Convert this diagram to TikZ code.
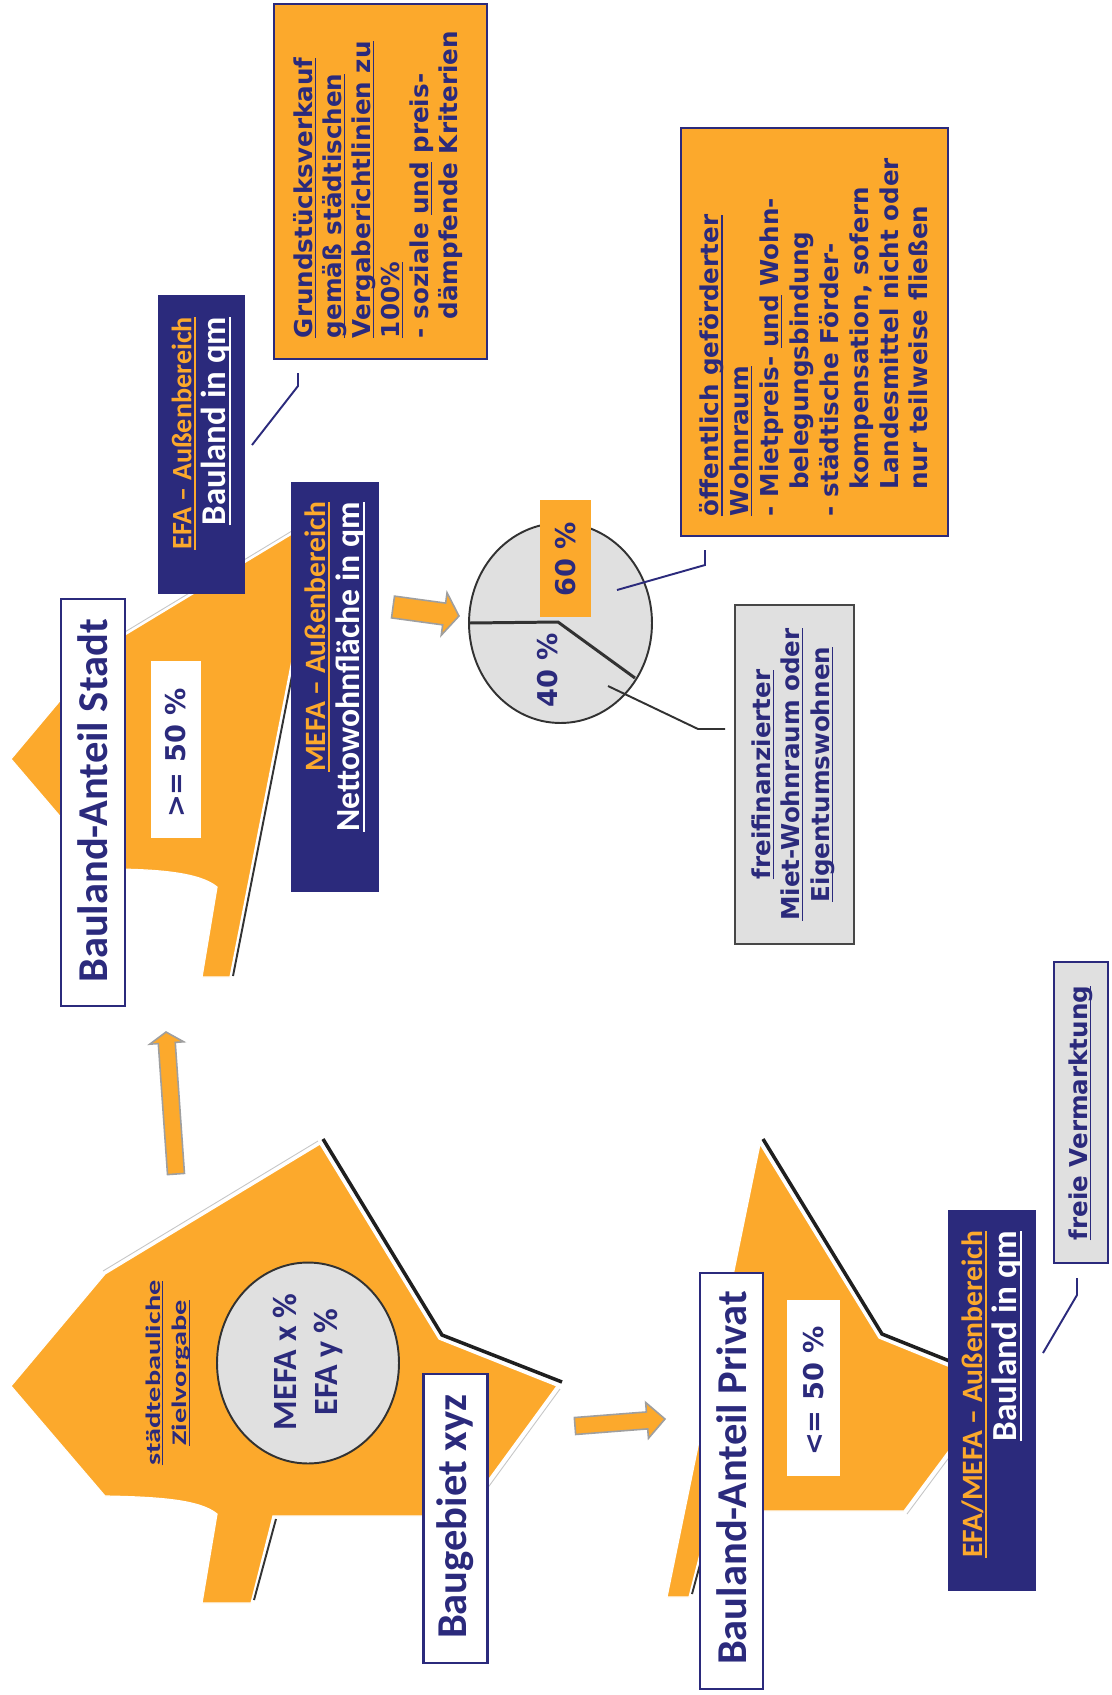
\documentclass[tikz,border=0pt]{standalone}
\usepackage{fontspec}
\usepackage{graphicx}
\usetikzlibrary{calc,shapes.geometric}
\newfontfamily\calfont{Carlito}
\newfontfamily\verfont{DejaVu Sans}
\definecolor{navyc}{RGB}{43,42,124}
\definecolor{orangec}{RGB}{252,169,44}
\definecolor{lgray}{RGB}{224,224,224}
\definecolor{dgray}{RGB}{50,50,50}
\newcommand\ul[1]{\leavevmode\setbox0\hbox{#1}\rlap{\rule[-0.15em]{\wd0}{0.055em}}\box0\relax}
\newcommand\blockarrow[6]{%
  \coordinate (#1-h) at ($(#3)!#6!(#2)$);
  \draw[blockar] ($(#2)!#4!90:(#3)$) -- ($(#1-h)!#4!90:(#3)$) -- ($(#1-h)!#5!90:(#3)$) -- (#3) -- ($(#1-h)!#5!-90:(#3)$) -- ($(#1-h)!#4!-90:(#3)$) -- ($(#2)!#4!-90:(#3)$) -- cycle;}
\begin{document}
\begin{tikzpicture}[x=0.02cm,y=-0.02cm,
  boxbase/.style={rectangle,inner sep=0pt,outer sep=0pt},
  navybox/.style={boxbase,fill=navyc},
  whitebox/.style={boxbase,fill=white,draw=navyc,line width=1.4pt},
  orangebox/.style={boxbase,fill=orangec,draw=navyc,line width=1.2pt},
  greybox/.style={boxbase,fill=lgray,draw=navyc,line width=1.2pt},
  ringbox/.style={ellipse,inner sep=0pt,outer sep=0pt,fill=lgray,draw=dgray,line width=1.1pt},
  txt/.style={rotate=90,inner sep=0pt,outer sep=0pt,text=navyc},
  vtxt/.style={txt,font=\verfont\bfseries\fontsize{14}{16.6}\selectfont},
  titletxt/.style={txt,font=\calfont\bfseries\fontsize{24.2}{29}\selectfont},
  pcttxt/.style={txt,font=\verfont\bfseries\fontsize{15.5}{18}\selectfont},
  navytxt/.style={txt,text=white,align=right,font=\calfont\bfseries\fontsize{19.8}{19.6}\selectfont},
  areashape/.style={fill=orangec,draw=white,line width=0.7pt},
  shadowline/.style={black!88,line width=2pt},
  thinshadow/.style={black!80,line width=1.1pt},
  glint/.style={gray!45,line width=0.5pt},
  callout/.style={navyc,line width=1.1pt},
  greycallout/.style={dgray,line width=1.1pt},
  blockar/.style={fill=orangec,draw=gray!75,line width=0.9pt,line join=miter},
  pieline/.style={dgray,line width=1.7pt}]

\useasboundingbox (0,0) rectangle (1112,1695);
\fill[white] (0,0) rectangle (1112,1695);

% ---- Stadt area
\draw[glint] (105,644) -- (320,514);
\draw[thinshadow] (323,518) -- (233,976);
\path[areashape] (11,759) -- (105,647) -- (320,517) -- (230,977) -- (202,977) -- (217,887) .. controls (200,873) and (160,869) .. (105,869) -- cycle;

% ---- Baugebiet area
\draw[glint] (103,1271) -- (318,1141);
\draw[glint] (560,1389) -- (465,1519);
\draw[shadowline] (323,1139) -- (442,1335) -- (562,1382);
\draw[thinshadow] (276,1519) -- (254,1600);
\path[areashape] (11,1386) -- (105,1274) -- (320,1144) -- (439,1339) -- (557,1386) -- (462,1516) -- (273,1516) -- (251,1603) -- (202,1603) -- (217,1514) .. controls (200,1500) and (160,1497) .. (105,1496) -- cycle;

% ---- Privat area
\draw[glint] (1000,1389) -- (907,1514);
\draw[shadowline] (763,1139) -- (882,1334) -- (1002,1382);
\draw[thinshadow] (714,1513) -- (692,1594);
\path[areashape] (760,1144) -- (879,1338) -- (997,1386) -- (904,1511) -- (711,1511) -- (689,1597) -- (667,1597) -- cycle;

% ---- boxes
\node[orangebox, minimum width=4.26cm, minimum height=7.1cm] (grund) at (380.5,181.5) {};
\node[navybox, minimum width=1.74cm, minimum height=5.98cm] (efa1) at (201.5,444.5) {};
\node[navybox, minimum width=1.76cm, minimum height=8.2cm] (mefa) at (335,687) {};
\node[whitebox, minimum width=1.28cm, minimum height=8.14cm] (stadt) at (93,802.5) {};
\node[boxbase, fill=white, minimum width=1.0cm, minimum height=3.54cm] (ge50) at (176,749.5) {};
\node[orangebox, minimum width=5.34cm, minimum height=8.16cm] (oeff) at (814.5,332) {};
\node[ringbox, minimum width=3.66cm, minimum height=4.0cm] (pie) at (560.5,623) {};
\node[boxbase, fill=orangec, minimum width=1.02cm, minimum height=2.34cm] (p60) at (565.5,558.5) {};
\node[greybox, draw=dgray!90, minimum width=2.38cm, minimum height=6.78cm] (frei) at (794.5,774.5) {};
\node[ringbox, minimum width=3.64cm, minimum height=4.02cm] (ring) at (308,1363) {};
\node[whitebox, minimum width=1.28cm, minimum height=5.78cm] (baug) at (455.5,1518.5) {};
\node[whitebox, minimum width=1.26cm, minimum height=8.32cm] (priv) at (731.5,1481) {};
\node[boxbase, fill=white, minimum width=1.06cm, minimum height=3.52cm] (le50) at (813.5,1388) {};
\node[navybox, minimum width=1.76cm, minimum height=7.62cm] (efa2) at (992,1400.5) {};
\node[greybox, minimum width=1.08cm, minimum height=6.02cm] (freie) at (1081,1112.5) {};

% pie dividers
\coordinate (pc) at (558,622);
\coordinate (pe) at (635,678);
\draw[pieline] (pie.west) -- (pc) -- (pe);

% ---- texts
\node[vtxt, anchor=west, align=left, font=\verfont\bfseries\fontsize{14}{16.5}\selectfont] (grundtxt) at (378,338)
  {\ul{Grundstücksverkauf}\\ \ul{gemäß städtischen}\\ \ul{Vergaberichtlinien zu}\\ \ul{100\%}\\ - soziale \ul{und} preis-\\ \hphantom{- }dämpfende Kriterien};

\node[navytxt, anchor=east] (efa1txt) at (201.5,317)
  {{\fontsize{16}{19.6}\selectfont\color{orangec}\ul{EFA – Außenbereich}}\\ \ul{Bauland in qm}};
\node[navytxt, anchor=east] (mefatxt) at (335,502)
  {{\fontsize{16.8}{19.6}\selectfont\color{orangec}\ul{MEFA – Außenbereich}}\\ {\fontsize{19.2}{19.6}\selectfont\ul{Nettowohnfläche in qm}}};
\node[navytxt, anchor=east] (efa2txt) at (992,1231)
  {{\fontsize{16.8}{19.6}\selectfont\color{orangec}\ul{EFA/MEFA – Außenbereich}}\\ {\fontsize{20}{19.6}\selectfont\ul{Bauland in qm}}};

\node[titletxt] (stadttxt) at (93,801) {Bauland-Anteil Stadt};
\node[titletxt] (baugtxt) at (455.5,1517) {Baugebiet xyz};
\node[titletxt] (privtxt) at (731.5,1478) {Bauland-Anteil Privat};

\node[pcttxt] (ge50txt) at (176,753) {>= 50 \%};
\node[pcttxt] (le50txt) at (813.5,1391) {<= 50 \%};
\node[pcttxt] (p60txt) at (566,559.5) {60 \%};
\node[pcttxt] (p40txt) at (548,670.5) {40 \%};

\node[vtxt, anchor=west, align=left, font=\verfont\bfseries\fontsize{14}{17}\selectfont] (oefftxt) at (814,516)
  {\ul{öffentlich geförderter}\\ \ul{Wohnraum}\\ - Mietpreis- \ul{und} Wohn-\\ \hspace*{15pt}belegungsbindung\\ - städtische Förder-\\ \hspace*{15pt}kompensation, sofern\\ \hspace*{15pt}Landesmittel nicht oder\\ \hspace*{15pt}nur teilweise fließen};

\node[vtxt, align=center, font=\verfont\bfseries\fontsize{14}{16.8}\selectfont] (freitxt) at (793,774.5)
  {\ul{freifinanzierter}\\ \ul{Miet-Wohnraum oder}\\ \ul{Eigentumswohnen}};

\node[vtxt] (freietxt) at (1081,1113) {\ul{freie Vermarktung}};

\node[txt, align=center, font=\calfont\bfseries\fontsize{19.3}{23.3}\selectfont] (ringtxt) at (308,1362) {MEFA x \%\\ EFA y \%};

\node[txt, align=center, font=\calfont\bfseries\fontsize{11.8}{15.2}\selectfont] (zieltxt) at (168,1373)
  {\scalebox{1.46}[1]{\ul{städtebauliche}}\\ \scalebox{1.46}[1]{\ul{Zielvorgabe}}};

% ---- callouts
\coordinate (g1) at (298,373); \coordinate (g2) at (298,386); \coordinate (g3) at (252,445);
\draw[callout] (g1) -- (g2) -- (g3);
\coordinate (o1) at (705,550); \coordinate (o2) at (705,565); \coordinate (o3) at (617,590);
\draw[callout] (o1) -- (o2) -- (o3);
\coordinate (f1) at (608,686); \coordinate (f2) at (698,729); \coordinate (f3) at (725,729);
\draw[greycallout] (f1) -- (f2) -- (f3);
\coordinate (v1) at (1077,1278); \coordinate (v2) at (1077,1295); \coordinate (v3) at (1043,1353);
\draw[callout] (v1) -- (v2) -- (v3);

% ---- block arrows
\coordinate (a1t) at (176,1174); \coordinate (a1h) at (166,1032);
\blockarrow{a1}{a1t}{a1h}{0.17cm}{0.34cm}{0.22cm}
\coordinate (a2t) at (575,1426); \coordinate (a2h) at (665,1419);
\blockarrow{a2}{a2t}{a2h}{0.17cm}{0.36cm}{0.36cm}
\coordinate (a3t) at (393,607); \coordinate (a3h) at (459,616);
\blockarrow{a3}{a3t}{a3h}{0.22cm}{0.43cm}{0.30cm}

\end{tikzpicture}
\end{document}
